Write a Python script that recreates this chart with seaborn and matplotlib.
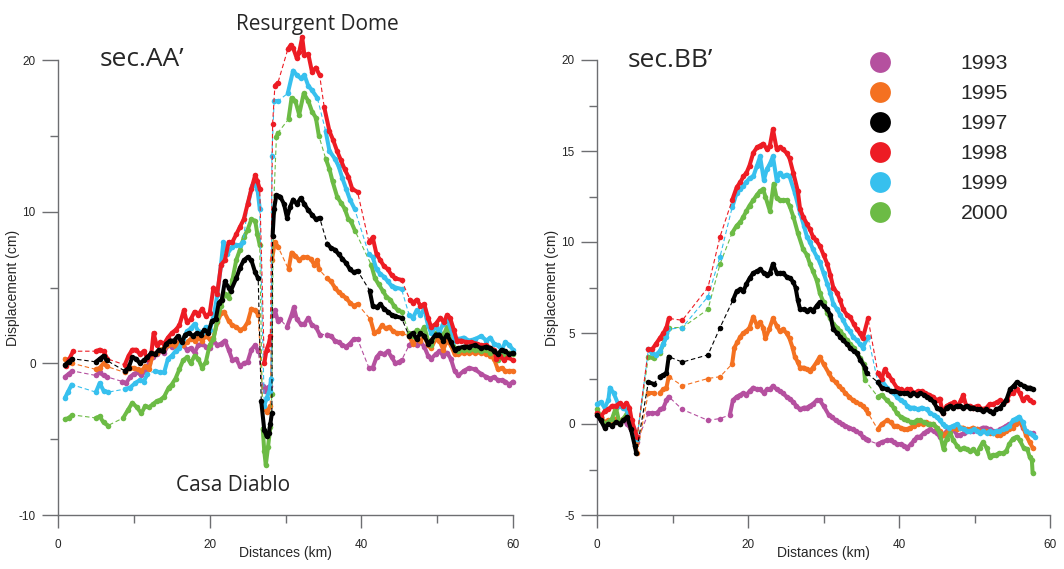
import numpy as np
import pandas as pd
import matplotlib
matplotlib.use("Agg")
import matplotlib.pyplot as plt
import seaborn as sns
from matplotlib.lines import Line2D
from matplotlib.ticker import MultipleLocator

YEARS = ["1993", "1995", "1997", "1998", "1999", "2000"]
COLORS = ["#B5509F", "#F47121", "#000000", "#ED1C24", "#37C0EE", "#6CBB45"]

# ---------------- sec.AA' ----------------
AA_X_1993 = [0.9,1.4,1.9, 5.0,5.5,6.0,6.5, 8.5,9.0,9.5,10.0,10.5,11.0,11.5,12.0,12.5,13.0,13.5,14.0,14.5,15.0,15.5,16.0,16.5,17.0,17.5,18.0,18.5,19.0,19.5,20.0,20.5,21.0,21.5,22.0,22.5,23.0,23.5,24.0,24.5,25.0,25.5,26.0,26.4, 27.0,27.3,27.6,28.0, 28.3,28.6,29.0,29.3, 30.2,30.8,31.1,31.5,32.0,32.5,33.0,33.5,34.0,34.5, 35.5,36.0,36.5,37.0,37.5,38.0,38.5,39.0,39.5, 41.0,41.5,42.0,42.5,43.0,43.5,44.0,44.5,45.0,45.3, 46.3,46.8,47.3,47.8,48.3,48.8,49.2,49.8,50.3,50.8,51.3,51.8,52.3,52.8,53.5,54.2,55.0,55.8,56.5,57.0,57.5,58.0,58.5,59.0,59.5,60.0]
AA_Y_1993 = [-0.9,-0.7,-0.5, -0.8,-0.6,-0.8,-0.9, -1.2,-1.3,-0.9,-0.7,-0.6,-0.8,-0.5,0.0,0.4,0.6,0.8,0.7,1.2,1.1,1.4,1.3,1.2,0.9,1.0,0.7,1.2,1.3,1.1,1.0,1.5,1.2,1.3,1.5,0.9,0.2,0.3,-0.2,0.0,0.1,0.9,1.2,0.8, -1.5,-1.8,-1.6,-1.5, 3.2,3.5,2.8,2.9, 2.4,3.2,3.7,2.9,2.6,2.6,3.0,2.5,2.4,1.9, 1.9,1.8,1.5,1.4,1.2,1.1,1.3,1.6,1.6, -0.3,-0.3,0.4,0.7,0.6,0.8,0.4,0.0,0.1,0.2, 1.2,1.4,1.2,1.4,1.1,0.5,0.3,0.6,0.8,0.5,0.7,0.3,-0.5,-0.8,-0.5,-0.3,-0.4,-0.7,-0.9,-1.0,-0.9,-1.1,-1.1,-1.2,-1.4,-1.2]

AA_X_1995 = [0.9,1.4,1.9, 5.0,5.5,6.0,6.4, 8.8,9.5,10.0,10.5,11.0,11.5,12.0, 12.5,13.0,13.5,14.0,14.5,15.0,15.5,16.0,16.5,17.0,17.5,18.0,18.5,19.0,19.5,20.0,20.5,21.0,21.5,21.9,22.5,23.0,23.5,24.0,24.5,25.0,25.5,26.0,26.4, 27.0,27.3,27.6,28.0, 28.2,28.6,29.0, 30.4,30.8,31.3,31.8,32.3,32.8,33.3,33.8,34.2,34.4, 35.5,36.0,36.5,37.0,37.5,38.0,38.5,39.0,39.5, 41.2,41.7,42.2,42.7,43.2,43.7,44.2,44.7,45.3, 46.3,46.8,47.3,47.8,48.3,48.8,49.2,49.8,50.3,50.8,51.3,51.8,52.3,52.8,53.5,54.2,55.0,55.8,56.5,57.0,57.5,58.0,58.5,59.0,59.5,60.0]
AA_Y_1995 = [0.3,0.1,0.0, -0.4,-0.3,0.0,-0.2, -0.6,-0.3,-0.3,-0.4,-0.5,-0.2,-0.4, 0.6,0.7,0.9,1.0,1.2,1.3,1.1,1.4,1.2,1.4,1.6,1.5,1.7,1.5,1.8,1.6,1.7,2.7,3.3,3.4,2.8,2.5,2.4,2.2,2.3,2.7,3.6,3.5,3.2, -2.6,-3.0,-3.2,-2.8, 6.8,8.0,7.7, 6.2,7.3,7.1,6.8,7.0,7.0,6.9,6.5,6.8,6.2, 5.6,5.4,5.0,4.7,4.5,4.3,4.0,3.8,3.9, 2.9,2.0,2.1,2.5,2.3,2.4,2.1,2.0,2.0, 1.8,1.3,1.6,1.5,1.8,1.2,1.0,1.6,1.5,0.9,1.5,1.2,0.6,0.6,0.7,0.7,0.7,0.7,0.6,0.5,0.3,-0.4,-0.3,-0.5,-0.5,-0.5]

AA_X_1997 = [0.9,1.4,1.9, 5.0,5.5,6.0,6.4, 8.8,9.3,9.8,10.3,10.8,11.3,11.8,12.3,12.8,13.3,13.8,14.3,14.8,15.3,15.8,16.3,16.8,17.3,17.8,18.3,18.8,19.3,19.8,20.3,20.8,21.2,21.6,22.0,22.5,22.8, 23.5,24.0,24.5,25.0,25.5,26.0,26.4, 26.8,27.2,27.5,27.8,28.0,28.2, 28.3,28.5,28.8,29.3,29.8,30.2,30.6,31.0,31.5,32.0,32.5,33.0,33.5,34.0,34.5, 35.5,36.0,36.5,37.0,37.5,38.0,38.5,39.0,39.5, 41.1,41.5,42.0,42.5,43.0,43.5,44.0,44.5,45.3, 46.3,46.8,47.3,47.8,48.3,48.8,49.2,49.8,50.3,50.8,51.3,51.8,52.3,52.8,53.5,54.2,55.0,55.8,56.5,57.0,57.5,58.0,58.5,59.0,59.5,60.0]
AA_Y_1997 = [-0.1,0.1,0.3, 0.1,0.3,0.5,0.2, -0.5,-0.3,0.4,0.3,0.0,0.2,0.4,0.7,0.6,0.9,0.8,1.3,1.5,1.5,1.8,1.4,1.9,2.0,1.8,2.0,1.9,2.2,2.0,2.8,2.9,4.0,4.2,5.4,5.0,4.8, 5.6,6.3,6.8,7.0,6.8,6.0,5.6, -2.5,-4.4,-4.8,-4.6,-4.0,-3.3, 8.4,10.2,11.1,11.0,10.5,9.6,10.3,10.8,10.5,10.9,10.5,10.1,9.8,9.5,9.6, 7.9,7.6,7.5,7.2,6.9,6.6,6.2,6.0,6.1, 4.8,3.8,3.7,3.9,3.6,3.4,3.2,3.1,3.0, 1.8,2.0,1.6,2.0,1.8,1.3,1.5,1.9,1.9,1.5,1.9,1.4,0.9,1.0,1.1,1.1,1.2,1.0,1.1,1.0,0.8,0.6,0.9,0.8,0.6,0.7]

AA_X_1998 = [1.0,1.5,2.0, 5.0,5.5,6.0,6.5, 8.8,9.3,9.8,10.3,10.8,11.3,11.8,12.3, 12.6,13.0,13.5,14.0,14.5,15.0,15.5,16.0,16.6,17.0,17.5,18.0,18.5,19.0,19.5,20.0,20.5,21.0,21.5,22.0,22.5,23.0,23.5,24.0,24.5,25.0,25.5,26.0,26.3,26.6, 27.2,27.5,27.8,28.0, 28.3,28.6,29.0, 30.3,30.7,31.0,31.5,31.8,32.2,32.5,33.0,33.5,34.0,34.5, 35.1,35.8,36.3,36.8,37.3,37.8,38.3,38.8,39.5, 41.0,41.5,42.0,42.5,43.0,43.5,44.0,44.5,45.3, 46.4,46.8,47.3,47.8,48.3,48.8,49.2,49.8,50.4,50.9,51.3,51.7,52.2,52.6,53.2,53.8,54.5,55.2,55.8,56.5,57.0,57.5,57.8,58.3,58.8,59.3,60.0]
AA_Y_1998 = [-0.2,0.3,0.8, 0.8,0.9,0.8,0.3, -0.1,0.5,0.9,0.9,0.6,0.8,0.3,0.6, 2.0,1.2,1.4,1.3,1.7,2.0,2.2,2.5,3.5,2.7,2.9,3.4,3.2,3.6,3.1,3.3,5.0,4.6,6.5,6.8,8.0,8.0,8.5,9.0,9.5,10.5,11.5,12.4,12.0,11.5, 0.0,0.9,1.3,1.8, 15.8,18.3,18.5, 20.7,21.0,20.8,20.1,20.5,21.5,20.3,20.4,19.2,19.5,19.0, 16.9,15.3,14.7,14.0,13.4,12.8,12.3,11.5,11.3, 8.0,8.3,7.2,6.8,6.4,6.2,5.8,5.6,5.5, 4.2,4.0,4.2,3.8,3.9,3.0,2.4,2.6,3.0,2.7,3.2,3.0,2.2,1.5,1.5,1.4,1.4,1.3,1.2,1.2,1.0,0.9,0.3,0.5,0.2,0.4,0.2]

AA_X_1999 = [0.9,1.3,1.8, 5.0,5.5,6.0,6.6, 8.8,9.5,10.2,10.8,11.3,11.8, 12.8,13.5,14.0,14.5,15.0,15.5,16.0,16.5,17.0,17.5,18.0,18.5,19.0,19.5,20.0,20.5,21.0,21.5,21.8,22.3,23.0,23.5,24.0,24.4,25.1,25.6,26.0,26.3,26.6, 27.2,27.5,27.9,28.1, 28.2,28.5,29.0, 30.3,31.0,31.5,32.0,32.5,33.0,33.5,34.2, 35.3,35.8,36.5,37.0,37.5,38.0,38.5,39.1, 41.0,41.5,42.0,42.5,43.0,43.5,44.0,44.5,45.3, 46.3,46.8,47.3,47.8,48.3,48.8,49.2,49.8,50.3,50.8,51.3,51.8,52.3,52.8,53.5,54.2,55.0,55.8,56.5,57.0,57.5,58.0,58.5,59.0,59.5,60.0]
AA_Y_1999 = [-2.3,-1.9,-1.4, -1.9,-1.3,-1.8,-1.9, -1.7,-1.6,-1.3,-1.1,-1.2,-0.7, -0.5,-0.6,-0.6,0.3,0.5,0.8,1.0,1.6,2.1,2.3,2.6,2.1,2.0,2.4,2.2,3.0,4.5,6.5,8.0,7.2,7.7,7.8,7.8,8.0,10.6,11.7,12.0,11.5,10.2, -2.8,-2.3,-1.8,-1.0, 13.7,17.3,17.3, 17.8,19.3,19.0,18.8,19.0,18.3,18.0,17.5, 15.3,14.0,13.5,13.0,12.2,11.5,10.8,10.2, 7.2,7.0,6.2,5.9,5.7,5.4,5.1,5.0,4.9, 3.2,3.0,3.5,3.2,3.6,2.5,2.0,2.4,2.1,2.6,2.9,2.3,1.5,1.6,1.7,1.5,1.6,1.8,1.5,1.7,1.3,1.2,0.9,1.4,1.2,0.9]

AA_X_2000 = [0.9,1.4,1.9, 5.0,5.5,6.0,6.6, 8.6,9.2,9.8,10.4,11.0,11.5,12.0,12.5,13.0,13.5,14.0, 14.6,15.0,15.5,16.0,16.5,17.0,17.5,18.0,18.5,19.0,19.5,20.0,20.5,21.0,21.5,22.0,22.5,23.0,23.5,24.0,24.5,25.0,25.5,26.0,26.3,26.6, 27.0,27.2,27.4,27.7,28.0,28.2, 28.4,28.8,29.0, 30.4,30.8,31.3,31.8,32.4,33.0,33.5,34.0,34.4, 35.3,35.8,36.2,36.8,37.3,37.8,38.3,38.6,39.2, 41.3,41.8,42.3,42.8,43.3,43.8,44.3,44.8,45.3, 46.3,46.8,47.3,47.8,48.3,48.8,49.2,49.8,50.3,50.8,51.3,51.8,52.3,52.8,53.5,54.2,55.0,55.8,56.5,57.0,57.5,58.0,58.5,59.0,59.5,60.0]
AA_Y_2000 = [-3.7,-3.6,-3.4, -3.6,-3.5,-3.9,-4.1, -3.6,-3.1,-2.6,-2.9,-3.3,-2.8,-2.9,-2.7,-2.5,-2.4,-2.2, -1.6,-1.4,-1.0,-0.4,0.2,0.4,0.0,0.5,0.3,-0.3,0.1,1.2,1.6,2.8,3.8,4.6,4.3,5.5,6.8,7.5,8.3,8.8,9.5,9.4,8.5,7.8, -4.3,-5.8,-6.7,-5.5,-4.2,-2.0, 10.0,14.9,15.2, 16.1,17.5,17.3,16.4,17.8,17.3,16.6,16.2,15.0, 13.5,12.8,12.0,11.0,10.6,10.2,9.5,9.4,8.7, 6.5,5.6,5.2,4.8,4.4,4.2,3.8,3.5,3.4, 2.0,1.8,2.2,2.0,2.4,1.5,1.2,2.0,2.1,1.8,2.4,1.8,1.0,0.8,0.9,0.9,0.9,0.8,0.9,0.7,0.8,0.2,0.6,0.4,0.7,0.6]

# ---------------- sec.BB' ----------------
BB_X_1993 = [0.0,0.5,1.0,1.5,2.0,2.5,3.0,3.5,4.0,4.5,5.0,5.3, 6.8,7.3,7.9,8.4,8.8,9.2,9.5, 11.3, 14.7, 16.3, 17.6, 18.0,18.5,19.0,19.4,19.8,20.2,20.7,21.2,21.6,22.1,22.5,22.9,23.3,23.8,24.2,24.6,25.1,25.5,26.0,26.4,26.9,27.4,27.8,28.2,28.6,29.1,29.5,30.0,30.7,31.1,31.6,32.0,32.5,32.9,33.4,33.9,34.3,34.8,35.2,35.6,35.9, 37.2,37.7,38.4,38.9,39.3,39.7,40.2,40.7,41.1,41.6,42.0,42.4,42.8,43.3,43.7,44.1,44.6,45.0,45.4,45.8,46.3,46.8,47.2,47.7,48.1,48.6,49.0,49.4,49.8,50.3,50.7,51.1,51.5,52.0,52.5,53.0,53.4,53.8,54.2,54.6,55.1,55.5,55.9,56.4,56.8,57.3,57.7]
BB_Y_1993 = [0.5,0.2,0.0,0.1,0.0,0.2,0.1,0.2,0.0,-0.3,-0.7,-1.0, 0.6,0.6,0.6,0.8,0.9,1.3,1.5, 0.8, 0.2, 0.3, 0.5, 1.3,1.5,1.6,1.7,1.6,1.8,2.0,1.9,1.9,1.7,1.9,1.9,2.1,1.9,1.8,1.7,1.5,1.4,1.2,1.0,0.8,0.9,0.9,1.0,1.1,1.3,1.3,1.0,0.5,0.4,0.2,0.1,0.0,-0.1,-0.2,-0.3,-0.4,-0.5,-0.7,-0.8,-0.9, -1.1,-1.0,-0.9,-0.9,-1.0,-1.1,-1.1,-1.2,-1.3,-1.1,-0.9,-0.7,-0.7,-0.5,-0.4,-0.3,-0.4,-0.5,-0.7,-0.6,-0.4,-0.2,-0.3,-0.6,-0.6,-0.5,-0.4,-0.4,-0.4,-0.3,-0.3,-0.2,-0.2,-0.3,-0.4,-0.4,-0.3,-0.2,-0.1,0.0,0.0,0.2,0.2,-0.2,-0.4,-0.5,-0.5]

BB_X_1995 = [0.0,0.5,1.0,1.5,2.0,2.5,3.0,3.5,4.0,4.5,5.0,5.3, 6.8,7.5,8.3,8.8,9.2,9.5, 11.3, 14.7, 16.3, 17.9,18.2,18.6,19.0,19.4,19.8,20.2,20.7,21.2,21.6,22.0,22.3,22.8,23.3,23.8,24.2,24.6,25.1,25.5,25.9,26.2,26.6,26.9,27.4,27.8,28.2,28.6,29.1,29.5,30.0,30.7,31.1,31.6,32.0,32.5,32.9,33.4,33.9,34.3,34.8,35.2,35.6,35.9, 37.2,37.7,38.4,38.9,39.3,39.7,40.2,40.7,41.1,41.5,42.0,42.5,43.2,43.6,44.1,44.5,45.0,45.4,45.8,46.3,46.8,47.2,47.7,48.1,48.5,49.0,49.4,49.8,50.3,50.7,51.1,51.5,52.0,52.5,53.0,53.4,53.8,54.2,54.6,55.1,55.5,55.9,56.4,56.8,57.3,57.7]
BB_Y_1995 = [0.6,0.4,0.1,0.2,0.0,0.3,0.1,0.3,0.4,-0.2,-1.0,-1.6, 1.7,1.7,1.7,1.9,2.0,2.6, 2.1, 2.5, 2.6, 3.3,4.2,4.5,4.8,5.0,5.1,5.3,5.9,5.4,5.6,5.3,4.7,5.2,5.8,5.4,5.1,5.2,5.0,4.7,4.2,3.7,3.4,3.1,3.1,3.0,2.9,3.1,3.4,3.7,3.3,2.8,2.5,2.3,2.1,1.9,1.7,1.5,1.3,1.2,1.1,1.0,0.8,0.6, -0.3,0.0,0.2,0.1,-0.1,-0.1,-0.2,-0.3,-0.3,-0.2,-0.1,0.0,0.0,0.1,0.0,0.0,-0.2,-0.4,-0.6,-0.5,-0.3,-0.2,-0.3,-0.2,-0.2,-0.3,-0.3,-0.2,-0.3,-0.4,-0.4,-0.4,-0.5,-0.5,-0.6,-0.6,-0.5,-0.4,-0.3,-0.2,0.0,0.2,-0.1,-0.6,-1.0,-1.3]

BB_X_1997 = [0.0,0.5,1.0,1.5,2.0,2.5,3.0,3.5,4.0,4.5,5.0,5.2, 6.8,7.5,8.3,8.8,9.2,9.5, 11.3, 14.7, 16.3, 18.0,18.5,19.0,19.4,19.8,20.2,20.7,21.2,21.6,22.1,22.5,22.9,23.3,23.8,24.2,24.6,25.1,25.6,26.0,26.3,26.6,26.9,27.4,27.8,28.2,28.6,29.1,29.5,30.0,30.5,30.9,31.3,31.8,32.2,32.6,33.1,33.5,34.0,34.4,34.9,35.5,35.7, 37.2,37.7,38.4,38.9,39.4,40.1,40.6,41.1,41.5,41.9,42.4,42.8,43.3,43.7,44.1,44.6,45.0,45.4,45.8,46.3,46.8,47.2,47.7,48.1,48.5,49.0,49.4,49.8,50.3,50.7,51.1,51.5,52.0,52.4,52.9,53.4,53.8,54.2,54.7,55.2,55.6,56.0,56.5,57.0,57.4,57.7]
BB_Y_1997 = [0.5,0.2,-0.2,0.0,-0.1,0.1,0.0,0.2,0.4,-0.3,-1.2,-1.6, 2.3,2.2,2.6,2.7,2.8,3.7, 3.4, 3.8, 5.3, 6.8,7.3,7.4,7.3,7.7,8.0,8.3,8.4,8.5,8.3,8.2,8.3,8.8,8.3,8.3,8.3,8.1,8.0,7.8,7.5,6.8,6.3,6.3,6.2,6.3,6.2,6.5,6.7,6.5,6.3,6.0,5.2,5.0,4.8,4.6,4.4,4.2,4.0,3.9,3.5,3.1,2.8, 2.3,2.0,1.9,1.8,1.8,1.7,1.7,1.7,1.6,1.7,1.6,1.7,1.6,1.5,1.4,1.2,0.9,0.8,0.6,0.9,1.0,0.9,1.0,1.0,0.9,1.0,0.9,0.9,0.8,0.8,0.7,0.8,0.7,0.6,0.8,0.9,1.1,1.3,1.9,2.1,2.3,2.2,2.1,2.0,2.0,1.9]

BB_X_1998 = [0.0,0.5,1.0,1.5,2.0,2.5,3.0,3.5,3.9,4.3,4.6,5.3, 6.8,7.3,7.8,8.3,8.8,9.2,9.5, 11.3, 14.7, 16.3, 17.9,18.5,19.0,19.4,19.8,20.2,20.7,21.2,21.6,22.0,22.5,22.9,23.3,23.8,24.2,24.6,25.1,25.5,26.0,26.6,26.9,27.3,27.8,28.2,28.6,29.0,29.5,30.0,30.5,30.9,31.3,31.8,32.2,32.6,33.1,33.5,34.0,34.4,34.8,35.2, 35.9, 37.2,37.7,38.1,38.6,39.1,39.7,40.2,40.7,41.1,41.5,42.0,42.5,43.0,43.5,44.0,44.5,45.0,45.4,45.8,46.3,46.8,47.3,47.8,48.2,48.5,48.9,49.4,49.8,50.4,51.1,51.6,52.0,52.5,53.0,53.4,53.9,54.3,54.7,55.1,55.6,56.0,56.4,56.9,57.3,57.7]
BB_Y_1998 = [0.6,0.4,0.7,0.8,1.0,1.0,1.15,1.0,1.15,0.9,0.2,-0.7, 4.1,4.1,4.4,4.7,5.0,5.3,5.8, 5.7, 7.5, 10.3, 12.3,13.0,13.3,13.6,13.8,14.2,14.9,15.2,15.3,15.4,15.1,15.3,16.2,15.1,15.2,15.1,14.9,14.6,13.8,12.8,11.8,11.4,11.0,10.7,10.3,10.1,9.8,9.3,8.8,8.2,7.5,7.2,6.8,6.3,6.0,5.9,5.5,5.2,5.0,4.7, 5.8, 2.8,2.5,3.0,2.7,2.4,2.0,1.9,1.8,1.9,1.9,1.7,1.8,1.8,1.7,1.6,1.5,1.3,1.4,0.6,1.0,1.1,1.2,1.0,1.3,1.6,1.0,1.0,0.9,1.0,0.8,0.9,1.1,1.1,1.2,1.3,1.2,1.3,1.7,1.7,1.9,1.7,1.3,1.5,1.3,1.2]

BB_X_1999 = [0.0,0.5,1.0,1.5,1.7,2.2,2.9,3.4,3.9,4.4,4.8,5.3, 6.8,7.3,7.8,8.3,8.8,9.2,9.4, 11.3, 14.7, 16.3, 17.9,18.5,19.0,19.4,19.8,20.2,20.7,21.2,21.6,22.1,22.5,22.9,23.3,23.8,24.2,24.6,25.1,25.5,26.2,26.9,27.4,27.8,28.2,28.6,29.1,29.5,30.0,30.5,30.9,31.3,31.8,32.2,32.6,33.1,33.5,33.9,34.4,34.8,35.2, 35.9, 37.2,37.7,38.4,38.9,39.3,39.7,40.2,40.7,41.1,41.5,42.0,42.5,43.0,43.7,44.1,44.6,45.0,45.4,45.8,46.1,46.6,47.2,47.7,48.1,48.6,49.0,49.4,49.9,50.3,50.7,51.1,51.6,52.0,52.4,52.8,53.3,53.8,54.2,54.6,55.1,55.5,55.9,56.4,56.8,57.3,57.7,58.0]
BB_Y_1999 = [1.1,1.2,0.9,1.3,2.0,1.7,1.0,0.9,0.8,0.2,-0.2,-0.8, 4.1,3.9,3.8,4.0,4.4,4.8,5.2, 5.3, 7.0, 9.2, 11.9,12.7,12.9,13.1,13.3,13.5,13.6,14.2,14.7,13.4,14.0,14.3,14.7,13.4,13.8,13.6,13.7,13.6,12.7,11.6,10.9,10.3,10.0,9.6,9.2,8.9,8.3,7.7,7.2,6.6,6.3,6.0,5.7,5.3,5.1,4.8,4.6,4.4,4.2, 4.8, 2.3,2.4,2.0,1.8,1.7,1.5,1.3,1.2,1.0,0.9,0.9,0.8,0.9,0.8,0.6,0.5,0.4,0.2,0.0,-0.1,-0.2,-0.1,0.0,-0.2,-0.3,-0.4,-0.4,-0.3,-0.4,-0.5,-0.4,-0.5,-0.4,-0.5,-0.4,-0.4,-0.3,-0.2,-0.1,0.2,0.3,0.4,0.1,-0.4,-0.5,-0.6,-0.7]

BB_X_2000 = [0.0,0.5,1.0,1.5,2.0,2.5,3.0,3.5,4.0,4.5,5.0,5.3, 6.8,7.5,8.3,8.8,9.2,9.5, 11.3, 14.7, 16.3, 17.9,18.5,19.0,19.4,19.8,20.2,20.7,21.2,21.6,22.0,22.3,22.9,23.4,23.8,24.2,24.6,25.1,25.5,26.0,26.6,27.3,27.8,28.2,28.6,29.1,29.5,30.0,30.5,30.9,31.3,31.8,32.2,32.6,33.1,33.5,34.0,34.4,34.9,35.3,35.5, 37.2,37.7,38.4,38.9,39.3,39.7,40.2,40.7,41.1,41.6,42.0,42.4,42.8,43.3,43.8,44.1,44.5,45.0,45.4,45.9,46.3,46.8,47.2,47.7,48.1,48.6,49.0,49.4,49.8,50.3,50.7,51.1,51.6,52.0,52.4,52.8,53.3,53.8,54.2,54.6,55.1,55.6,56.0,56.5,57.0,57.3,57.6,57.7]
BB_Y_2000 = [0.8,0.4,0.0,0.1,0.3,0.9,0.0,0.3,0.6,0.1,-0.5,-0.8, 3.7,3.6,3.9,4.4,5.0,5.3, 5.3, 6.3, 8.8, 10.5,10.9,11.1,11.4,11.7,12.0,12.3,12.6,12.8,12.9,12.5,11.7,13.2,12.4,12.3,12.3,12.3,12.0,11.4,10.5,9.6,9.3,8.8,8.4,7.9,7.2,6.7,6.1,5.8,5.5,5.3,5.1,4.9,4.6,4.4,4.2,3.9,3.6,3.3,2.4, 1.5,1.6,1.3,1.1,0.9,0.6,0.4,0.3,0.2,0.1,0.1,0.2,0.2,0.1,0.0,0.0,0.0,-0.2,-0.5,-1.4,-0.8,-0.5,-0.9,-1.2,-1.4,-1.3,-1.4,-1.5,-1.4,-1.6,-1.3,-1.0,-1.3,-1.8,-1.7,-1.7,-1.6,-1.6,-1.5,-1.1,-0.8,-0.7,-0.9,-1.3,-1.4,-1.8,-2.0,-2.7]

AA_SERIES = [(AA_X_1993, AA_Y_1993), (AA_X_1995, AA_Y_1995), (AA_X_1997, AA_Y_1997),
             (AA_X_1998, AA_Y_1998), (AA_X_1999, AA_Y_1999), (AA_X_2000, AA_Y_2000)]
BB_SERIES = [(BB_X_1993, BB_Y_1993), (BB_X_1995, BB_Y_1995), (BB_X_1997, BB_Y_1997),
             (BB_X_1998, BB_Y_1998), (BB_X_1999, BB_Y_1999), (BB_X_2000, BB_Y_2000)]

# drawing order (bottom -> top)
DRAW_ORDER = [0, 1, 5, 4, 3, 2]

sns.set_style("ticks")
plt.rcParams["font.family"] = ["Liberation Sans", "DejaVu Sans"]
GRAY = "#6d6e71"

fig = plt.figure(figsize=(10.64, 5.69), dpi=100)
axL = fig.add_axes([58 / 1064, 1 - 515 / 569, 455 / 1064, 455 / 569])
axR = fig.add_axes([597 / 1064, 1 - 515 / 569, 453 / 1064, 455 / 569])


def draw_series(ax, xs, ys, color, z):
    assert len(xs) == len(ys), (len(xs), len(ys))
    df = pd.DataFrame({"x": xs, "y": ys})
    gap = (df["x"].diff() > 0.8) | (df["y"].diff().abs() > 2.0)
    df["run"] = gap.cumsum()
    sns.lineplot(data=df, x="x", y="y", ax=ax, color=color, lw=0.8,
                 linestyle=(0, (4, 2.5)), sort=False, estimator=None,
                 legend=False, zorder=z, clip_on=False)
    sns.lineplot(data=df, x="x", y="y", units="run", estimator=None, ax=ax,
                 color=color, lw=2.9, sort=False, legend=False, zorder=z + 0.1,
                 clip_on=False, solid_capstyle="round")
    sns.scatterplot(data=df, x="x", y="y", ax=ax, color=color, s=16,
                    linewidth=0, legend=False, zorder=z + 0.2, clip_on=False)


for ax, series in ((axL, AA_SERIES), (axR, BB_SERIES)):
    for k, i in enumerate(DRAW_ORDER):
        xs, ys = series[i]
        draw_series(ax, xs, ys, COLORS[i], 2 + k)

axL.set_ylim(-10, 20)
axR.set_ylim(-5, 20)
axL.yaxis.set_major_locator(MultipleLocator(10))
axL.yaxis.set_minor_locator(MultipleLocator(5))
axR.yaxis.set_major_locator(MultipleLocator(5))
axR.yaxis.set_minor_locator(MultipleLocator(2.5))

for ax in (axL, axR):
    ax.set_xlim(0, 60)
    ax.xaxis.set_major_locator(MultipleLocator(20))
    ax.xaxis.set_minor_locator(MultipleLocator(10))
    ax.yaxis.set_major_formatter(matplotlib.ticker.FormatStrFormatter("%g"))
    for s in ("top", "right"):
        ax.spines[s].set_visible(False)
    for s in ("left", "bottom"):
        ax.spines[s].set_color(GRAY)
        ax.spines[s].set_linewidth(1.0)
    ax.tick_params(axis="y", which="major", direction="out", length=11.5,
                   width=1.0, color=GRAY, labelsize=8.5, pad=4.5)
    ax.tick_params(axis="y", which="minor", direction="out", length=6,
                   width=1.0, color=GRAY)
    ax.tick_params(axis="x", which="major", direction="out", length=9.5,
                   width=1.0, color=GRAY, labelsize=8.5, pad=8)
    ax.tick_params(axis="x", which="minor", direction="out", length=5.5,
                   width=1.0, color=GRAY)
    ax.set_xlabel("Distances (km)", fontsize=10)
    ax.set_ylabel("Displacement (cm)", fontsize=10)
    ax.xaxis.set_label_coords(0.5, -0.068)
    ax.yaxis.set_label_coords(-0.083, 0.5)
    ax.set_facecolor("none")

TXT_FONT = ["Open Sans", "DejaVu Sans"]
axL.text(5.5, 19.6, "sec.AA\u2019", fontsize=19, family=TXT_FONT, ha="left", va="baseline")
axR.text(4.0, 19.6, "sec.BB\u2019", fontsize=19, family=TXT_FONT, ha="left", va="baseline")
axL.text(34.2, 22.0, "Resurgent Dome", fontsize=15, family=TXT_FONT, ha="center",
         va="baseline", clip_on=False)
axL.text(23.1, -8.4, "Casa Diablo", fontsize=15, family=TXT_FONT, ha="center", va="baseline")

handles = [Line2D([], [], marker="o", ls="", ms=15, color=c, markeredgewidth=0) for c in COLORS]
leg = axR.legend(handles, YEARS, loc="upper left", bbox_to_anchor=(869 / 1064, 1 - 54 / 569),
                 bbox_transform=fig.transFigure, frameon=False, fontsize=15.3,
                 handlelength=1.0, handletextpad=3.3, labelspacing=0.52,
                 borderpad=0, borderaxespad=0)

fig.savefig("out.png", dpi=100)
